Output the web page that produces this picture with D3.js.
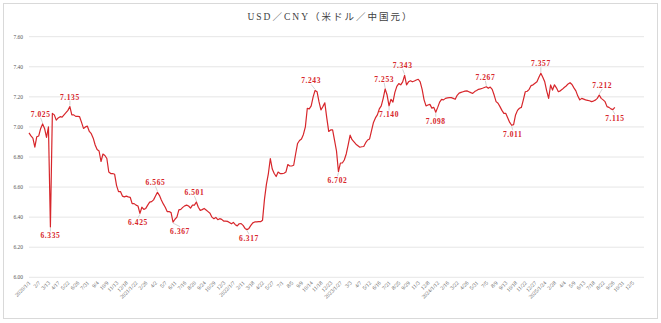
<!DOCTYPE html>
<html><head><meta charset="utf-8">
<script src="https://cdn.jsdelivr.net/npm/d3@7"></script>
<style>html,body{margin:0;padding:0;background:#fff;}svg{display:block;}</style>
</head><body><svg id="c" width="661" height="323"></svg>
<script>
const title = "USD／CNY（米ドル／中国元）";
const yTicks = [6.0, 6.2, 6.4, 6.6, 6.8, 7.0, 7.2, 7.4, 7.6];
const categoryCount = 317;
const tickLabels = ["2020/1/1","2/7","3/13","4/17","5/22","6/26","7/31","9/4","10/9","11/13","12/18",
 "2021/1/22","2/26","4/2","5/7","6/11","7/16","8/20","9/24","10/29","12/3",
 "2022/1/7","2/11","3/18","4/22","5/27","7/1","8/5","9/9","10/14","11/18","12/23",
 "2023/1/27","3/3","4/7","5/12","6/16","7/21","8/25","9/29","11/3","12/8",
 "2024/1/12","2/16","3/22","4/26","5/31","7/5","8/9","9/13","10/18","11/22","12/27",
 "2025/1/24","2/28","4/4","5/9","6/13","7/18","8/22","9/26","10/31","12/5"];
const values = [
 6.960,6.940,6.925,6.865,6.935,6.940,6.990,7.020,6.990,6.930,
 7.000,6.335,7.090,7.080,7.045,7.060,7.068,7.065,7.080,7.095,
 7.110,7.135,7.080,7.080,7.070,7.070,7.068,7.030,6.990,7.000,
 7.005,6.970,6.955,6.925,6.880,6.850,6.840,6.770,6.820,6.810,
 6.790,6.700,6.690,6.690,6.685,6.610,6.570,6.570,6.540,6.535,
 6.540,6.535,6.532,6.490,6.490,6.480,6.474,6.425,6.466,6.452,
 6.458,6.480,6.500,6.503,6.515,6.540,6.565,6.545,6.514,6.488,
 6.466,6.437,6.437,6.430,6.367,6.386,6.400,6.448,6.452,6.465,
 6.475,6.480,6.474,6.460,6.480,6.480,6.501,6.466,6.445,6.450,
 6.458,6.448,6.437,6.426,6.400,6.390,6.398,6.383,6.390,6.385,
 6.374,6.374,6.372,6.365,6.356,6.365,6.350,6.342,6.356,6.357,
 6.345,6.325,6.317,6.325,6.345,6.362,6.368,6.368,6.370,6.370,
 6.380,6.520,6.620,6.690,6.790,6.720,6.690,6.670,6.700,6.690,
 6.690,6.692,6.700,6.750,6.740,6.740,6.745,6.820,6.890,6.910,
 6.920,6.950,7.000,7.124,7.120,7.140,7.200,7.243,7.234,7.168,
 7.113,7.135,7.160,7.060,6.970,6.980,6.980,6.910,6.840,6.702,
 6.760,6.760,6.780,6.820,6.880,6.945,6.915,6.900,6.885,6.875,
 6.865,6.868,6.870,6.895,6.913,6.920,6.975,7.030,7.060,7.080,
 7.120,7.140,7.190,7.253,7.212,7.140,7.184,7.165,7.230,7.270,
 7.288,7.280,7.300,7.343,7.280,7.300,7.307,7.300,7.305,7.312,
 7.317,7.300,7.250,7.180,7.140,7.146,7.150,7.125,7.130,7.098,
 7.130,7.165,7.183,7.180,7.190,7.193,7.195,7.195,7.190,7.184,
 7.210,7.225,7.230,7.234,7.238,7.240,7.234,7.228,7.223,7.235,
 7.242,7.250,7.253,7.257,7.262,7.267,7.257,7.265,7.250,7.212,
 7.168,7.157,7.135,7.110,7.090,7.090,7.060,7.030,7.011,7.015,
 7.080,7.110,7.124,7.130,7.180,7.234,7.237,7.250,7.275,7.280,
 7.290,7.300,7.330,7.357,7.330,7.300,7.240,7.190,7.279,7.245,
 7.280,7.260,7.234,7.240,7.250,7.262,7.272,7.286,7.294,7.282,
 7.260,7.240,7.205,7.180,7.190,7.185,7.180,7.177,7.174,7.168,
 7.172,7.178,7.190,7.212,7.190,7.180,7.168,7.135,7.130,7.120,
 7.115,7.130];
// annotated points: index into values, label text, placement
const annIndex = [7, 21, 11, 57, 66, 74, 86, 112, 159, 147, 183, 185, 193, 209, 235, 248, 263, 293, 300];
const annText  = ["7.025","7.135","6.335","6.425","6.565","6.367","6.501","6.317","6.702","7.243","7.253","7.140","7.343","7.098","7.267","7.011","7.357","7.212","7.115"];
const annPlace = ["above","above","below","below","above","below","above","below","below","above","above","below","above","below","above","below","above","above","below"];
const annShift = [-2, 0, 0, -2, -2, 7, -2, 2, -1, -4, -1, 0, -2, 0, -1, 1, 0, 3, 2];

(function(){
const svg = d3.select("#c");
const W = 661, H = 323;
const mLeft = 29, mRight = 644, mTop = 36.7, mBottom = 277.3;

svg.append("rect").attr("x",3.5).attr("y",3.5).attr("width",W-7).attr("height",H-8)
  .attr("fill","#fff").attr("stroke","#d9d9d9").attr("stroke-width",1);

const x = d3.scaleLinear().domain([0, categoryCount-1]).range([mLeft, mRight]);
const y = d3.scaleLinear().domain([6.0, 7.6]).range([mBottom, mTop]);

svg.append("g").selectAll("line").data(yTicks).join("line")
  .attr("x1", mLeft).attr("x2", mRight)
  .attr("y1", d=>y(d)).attr("y2", d=>y(d))
  .attr("stroke", "#e6e6e6").attr("stroke-width", 1);

svg.append("g").selectAll("text").data(yTicks).join("text")
  .attr("x", 23).attr("y", d=>y(d)+2)
  .attr("text-anchor","end")
  .attr("font-family","'Liberation Serif', serif").attr("font-size",5.5)
  .attr("fill","#595959").text(d=>d3.format(".2f")(d));

svg.append("g").selectAll("text").data(tickLabels).join("text")
  .attr("transform", (d,i)=>`translate(${x(i*5)+2},${mBottom+6}) rotate(-45)`)
  .attr("text-anchor","end")
  .attr("font-family","'Liberation Serif', serif").attr("font-size",5.5)
  .attr("fill","#595959").text(d=>d);

const line = d3.line().x((d,i)=>x(i)).y(d=>y(d));
svg.append("path").datum(values).attr("d", line)
  .attr("fill","none").attr("stroke","#d7262b").attr("stroke-width",1.2)
  .attr("stroke-linejoin","round");

const ag = svg.append("g");
annIndex.forEach((idx,k)=>{
  const px = x(idx), py = y(values[idx]);
  const above = annPlace[k]==="above";
  const lx = px + annShift[k];
  const ly = above ? py - 7 : py + 11.5;
  ag.append("line")
    .attr("x1", px).attr("y1", above ? py-1 : py+1)
    .attr("x2", lx).attr("y2", above ? ly+1 : ly-7)
    .attr("stroke","#c8c8c8").attr("stroke-width",0.8);
  ag.append("text").attr("x", lx).attr("y", ly)
    .attr("text-anchor","middle")
    .attr("font-family","'Liberation Serif', serif").attr("font-size",7.5)
    .attr("font-weight","bold").attr("letter-spacing",0.6)
    .attr("fill","#d7262b").text(annText[k]);
});

svg.append("text").attr("x", W/2).attr("y", 20)
  .attr("text-anchor","middle")
  .attr("font-family","'Liberation Serif','Noto Sans CJK JP', serif")
  .attr("font-size",9.5).attr("letter-spacing",2)
  .attr("fill","#404040").text(title);
})();
</script></body></html>
